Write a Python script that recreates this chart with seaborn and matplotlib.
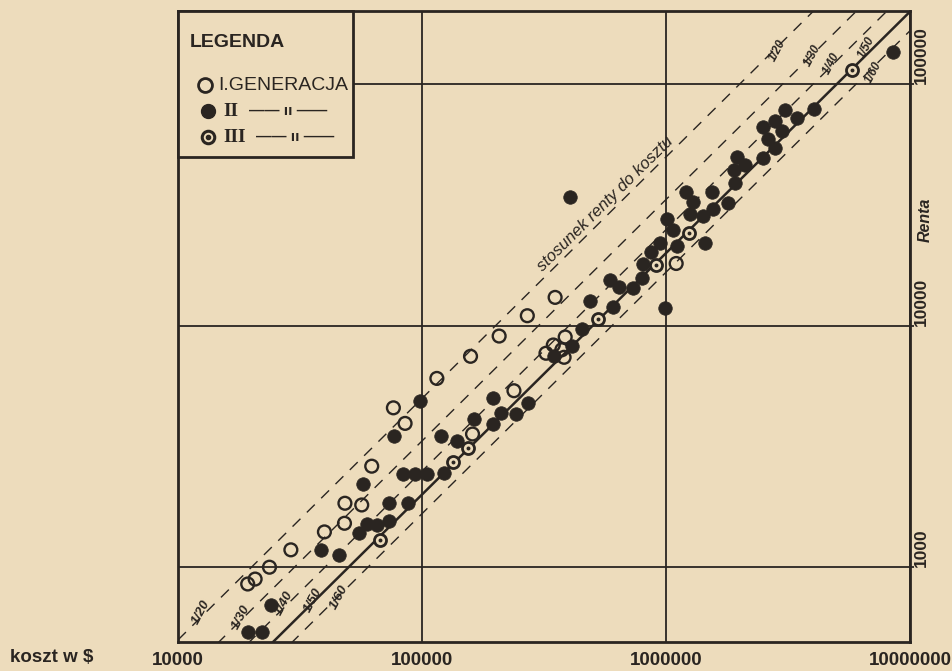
import pandas as pd
import seaborn as sns
import matplotlib.pyplot as plt
from matplotlib.patches import Rectangle

# I generacja (open circles): koszt, renta
gen1_koszt = [19300, 20700, 23700, 29000, 39800, 48100, 48300, 56600, 62200, 76300,
              85200, 115000, 158000, 161000, 207000, 238000, 270000, 351000, 345000,
              386000, 322000, 374000, 382000, 1100000]
gen1_renta = [852, 893, 1000, 1180, 1400, 1520, 1840, 1810, 2620, 4570,
              3940, 6050, 7470, 3560, 9060, 5380, 11000, 13100, 8320,
              8980, 7690, 7950, 7400, 18100]

# II generacja (filled circles)
gen2_koszt = [19300, 22100, 24100, 38600, 45800, 55300, 57500, 59300, 65200, 73500,
              73500, 87900, 76800, 98100, 83800, 93600, 105000, 123000, 120000, 139000,
              163000, 196000, 195000, 211000, 243000, 273000, 348000, 412000, 453000, 488000,
              608000, 589000, 642000, 730000, 794000, 805000, 868000, 945000, 1005000, 1070000,
              1110000, 1440000, 990000, 404000, 1210000, 1290000, 1250000, 1540000, 1560000, 1420000,
              1800000, 1950000, 2110000, 1890000, 1910000, 2500000, 2800000, 2610000, 2980000, 2500000,
              2800000, 3060000, 3430000, 4030000, 8490000]
gen2_renta = [540, 540, 697, 1180, 1120, 1390, 2210, 1510, 1500, 1560,
              1850, 1840, 3490, 4880, 2430, 2430, 2430, 2460, 3500, 3330,
              4120, 3910, 5030, 4340, 4310, 4800, 7520, 8240, 9660, 12600,
              12000, 15500, 14400, 14300, 15800, 18000, 20200, 21900, 27600, 24800,
              21400, 21900, 11800, 34200, 35800, 32600, 29100, 35700, 30400, 28600,
              32100, 50100, 46300, 44100, 38900, 49700, 54400, 59400, 63800, 66300,
              70500, 78400, 72800, 79100, 136000]

# III generacja (ring with dot)
gen3_koszt = [67300, 134000, 155000, 528000, 913000, 1240000, 5770000]
gen3_renta = [1300, 2730, 3110, 10700, 17800, 24200, 114000]

ratios = [20, 30, 40, 50, 60]
x_ticks = [10000, 100000, 1000000, 10000000]
y_ticks = [1000, 10000, 100000]

paper = '#eddcbc'
ink = '#2a2521'

sns.set_style('white')
plt.rcParams['font.family'] = ['Liberation Sans', 'DejaVu Sans']

fig, ax = plt.subplots(figsize=(9.52, 6.71), dpi=100)
fig.patch.set_facecolor(paper)
ax.set_facecolor(paper)
fig.subplots_adjust(left=0.187, right=0.956, bottom=0.0432, top=0.9836)

ax.set_xscale('log')
ax.set_yscale('log')
ax.set_xlim(1e4, 1e7)
ax.set_ylim(490, 201000)

# renta / koszt ratio lines
line_x = [1e4, 1e7]
for n in ratios:
    if n == 50:
        ax.plot(line_x, [v / n for v in line_x], color=ink, lw=1.8, zorder=2)
    else:
        ax.plot(line_x, [v / n for v in line_x], color=ink, lw=1.0,
                ls=(0, (8, 6.5)), zorder=2)

df1 = pd.DataFrame({'koszt': gen1_koszt, 'renta': gen1_renta})
df2 = pd.DataFrame({'koszt': gen2_koszt, 'renta': gen2_renta})
df3 = pd.DataFrame({'koszt': gen3_koszt, 'renta': gen3_renta})

sns.scatterplot(data=df2, x='koszt', y='renta', ax=ax, s=95, color=ink,
                edgecolor=ink, linewidth=0.5, zorder=4)
sns.scatterplot(data=df1, x='koszt', y='renta', ax=ax, s=85, facecolor='none',
                edgecolor=ink, linewidth=1.7, zorder=4)
sns.scatterplot(data=df3, x='koszt', y='renta', ax=ax, s=75, facecolor=paper,
                edgecolor=ink, linewidth=2.0, zorder=4)
sns.scatterplot(data=df3, x='koszt', y='renta', ax=ax, s=8, color=ink,
                edgecolor=ink, linewidth=0, zorder=5)

# grid and frame
ax.set_xticks(x_ticks)
ax.set_xticklabels([str(v) for v in x_ticks], fontsize=13.5,
                   fontweight='bold', color=ink)
ax.set_yticks(y_ticks)
ax.yaxis.tick_right()
ax.set_yticklabels([str(v) for v in y_ticks], fontsize=12.5,
                   fontweight='bold', color=ink, rotation=90, va='bottom')
ax.minorticks_off()
ax.tick_params(axis='x', length=0, pad=7)
ax.tick_params(axis='y', length=3, width=1.3, color=ink, pad=0)
ax.grid(True, color=ink, lw=1.3, zorder=1)
ax.set_axisbelow(True)
for sp in ax.spines.values():
    sp.set_color(ink)
    sp.set_linewidth(2)
ax.set_xlabel('')
ax.set_ylabel('')

ax.text(1.0205, 0.669, 'Renta', transform=ax.transAxes, rotation=90, ha='center',
        va='center', fontsize=11.5, fontweight='bold', fontstyle='italic', color=ink)
fig.text(10 / 952, 1 - 658 / 671, 'koszt w \\$', ha='left', va='center',
         fontsize=13.5, fontweight='bold', color=ink)

# ratio labels
ax.text(590000, 29500 * 1.03, 'stosunek renty do kosztu', rotation=44.7,
        rotation_mode='anchor', ha='center', va='bottom', fontsize=12,
        fontstyle='italic', color=ink, zorder=3)
low_pos = [(12400, 652), (18100, 622), (27200, 711), (35700, 731), (45700, 752)]
high_pos = [(2850000, 138500), (4000000, 132000), (4750000, 122000),
            (6600000, 142500), (7050000, 112000)]
for n, (px, py) in zip(ratios, low_pos):
    ax.text(px, py, f'1/{n}', rotation=62, ha='center', va='center', fontsize=9.5,
            fontstyle='italic', fontweight='bold', color=ink, zorder=3)
for n, (px, py) in zip(ratios, high_pos):
    ax.text(px, py, f'1/{n}', rotation=62, ha='center', va='center', fontsize=8.5,
            fontstyle='italic', fontweight='bold', color=ink, zorder=3)

# legend box
ax.add_patch(Rectangle((0, 0.7686), 0.239, 0.2314, transform=ax.transAxes,
                       facecolor=paper, edgecolor=ink, lw=2, zorder=6, clip_on=False))
ax.text(0.0164, 0.9493, 'LEGENDA', transform=ax.transAxes, va='center', ha='left',
        fontsize=14, fontweight='bold', color=ink, zorder=7)
ax.plot([0.0369], [0.8827], transform=ax.transAxes, marker='o', ms=10, mfc='none',
        mec=ink, mew=2, zorder=7, clip_on=False)
ax.text(0.0546, 0.8827, 'I.GENERACJA', transform=ax.transAxes, va='center',
        ha='left', fontsize=14, color=ink, zorder=7)
ax.plot([0.041], [0.8415], transform=ax.transAxes, marker='o', ms=10, mfc=ink,
        mec=ink, zorder=7, clip_on=False)
ax.text(0.0615, 0.8415, 'II', transform=ax.transAxes, va='center', ha='left',
        fontsize=14, fontfamily='Liberation Serif', fontweight='bold', color=ink, zorder=7)
ax.text(0.097, 0.8415, '—— ıı ——', transform=ax.transAxes, va='center', ha='left',
        fontsize=11, fontweight='bold', color=ink, zorder=7)
ax.plot([0.041], [0.8003], transform=ax.transAxes, marker='o', ms=9, mfc=paper,
        mec=ink, mew=2.2, zorder=7, clip_on=False)
ax.plot([0.041], [0.8003], transform=ax.transAxes, marker='o', ms=3, mfc=ink,
        mec=ink, zorder=8, clip_on=False)
ax.text(0.0615, 0.8003, 'III', transform=ax.transAxes, va='center', ha='left',
        fontsize=14, fontfamily='Liberation Serif', fontweight='bold', color=ink, zorder=7)
ax.text(0.1066, 0.8003, '—— ıı ——', transform=ax.transAxes, va='center', ha='left',
        fontsize=11, fontweight='bold', color=ink, zorder=7)

fig.savefig('out.png', dpi=100, facecolor=paper)
